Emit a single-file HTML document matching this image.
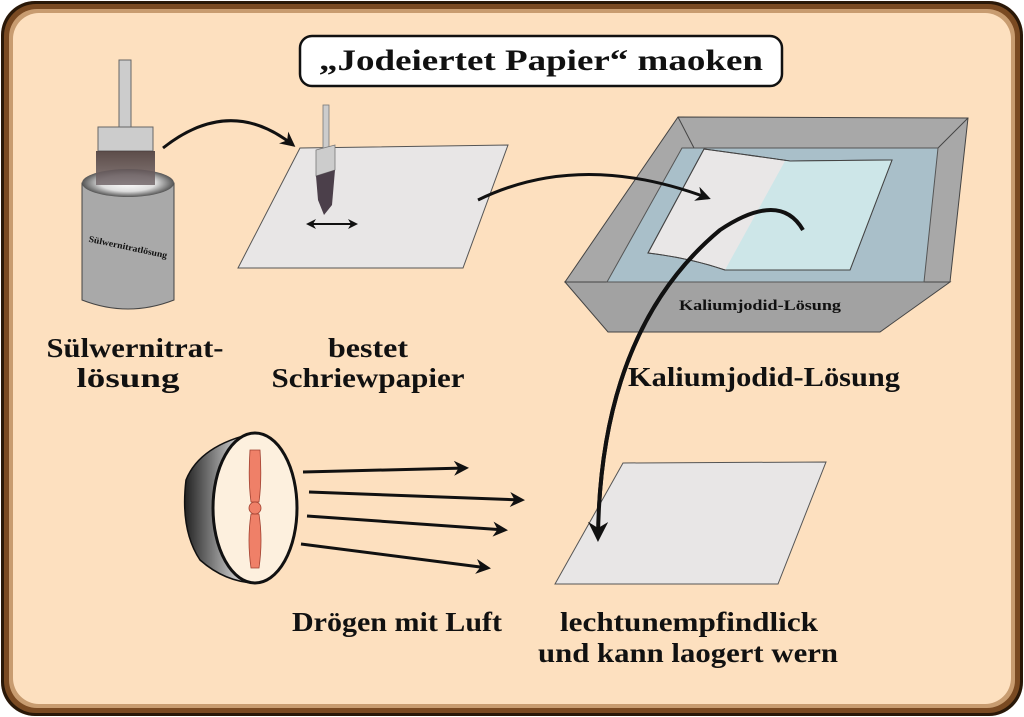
<!DOCTYPE html>
<html><head><meta charset="utf-8"><style>
html,body{margin:0;padding:0;background:#fff;}
svg{display:block;}
text{font-family:"Liberation Serif",serif;font-weight:bold;fill:#111;}
</style></head><body>
<svg width="1024" height="717" viewBox="0 0 1024 717" xmlns="http://www.w3.org/2000/svg">
<defs>
<linearGradient id="fan" x1="0" x2="1"><stop offset="0" stop-color="#222"/><stop offset="0.6" stop-color="#aaa"/><stop offset="1" stop-color="#fff"/></linearGradient>
<linearGradient id="brist" x1="0" y1="0" x2="0" y2="1"><stop offset="0" stop-color="#4a3c3c"/><stop offset="1" stop-color="#7a6f72"/></linearGradient>
<radialGradient id="canTop" cx="0.5" cy="0.5" r="0.5"><stop offset="0" stop-color="#fff"/><stop offset="0.6" stop-color="#ddd"/><stop offset="1" stop-color="#555"/></radialGradient>
<marker id="ah" viewBox="0 0 10 10" refX="8" refY="5" markerWidth="5" markerHeight="5" orient="auto-start-reverse"><path d="M0,0 L10,5 L0,10 L3,5z" fill="#111"/></marker>
</defs>
<rect x="1" y="1" width="1022" height="715" rx="34" fill="#2a1808"/>
<rect x="4" y="4" width="1016" height="709" rx="32" fill="#7a4a22"/>
<rect x="9" y="9" width="1006" height="699" rx="28" fill="#c89c70"/>
<rect x="13" y="13" width="998" height="691" rx="26" fill="#fde0bf"/>

<rect x="300" y="36" width="482" height="50" rx="12" fill="#fff" stroke="#111" stroke-width="2.5"/>
<text x="541" y="70" font-size="30" text-anchor="middle" textLength="444" lengthAdjust="spacingAndGlyphs">„Jodeiertet Papier“ maoken</text>

<!-- can -->
<path d="M82,183 L82,300 Q128,318 174,300 L174,183 Z" fill="#a9a9a9" stroke="#444"/>
<ellipse cx="128" cy="183" rx="46" ry="14" fill="url(#canTop)"/>
<text x="128" y="250" font-size="9" text-anchor="middle" transform="rotate(12 128 247)" textLength="80" lengthAdjust="spacingAndGlyphs">Sülwernitratlösung</text>
<rect x="119" y="60" width="12" height="70" fill="#ccc" stroke="#666"/>
<rect x="98" y="127" width="55" height="24" fill="#ccc" stroke="#666"/>
<rect x="96" y="151" width="59" height="34" fill="url(#brist)" opacity="0.9"/>

<!-- paper 1 -->
<polygon points="300,148 508,145 463,268 238,268" fill="#e8e6e6" stroke="#555"/>
<rect x="323" y="105" width="6" height="45" fill="#ccc" stroke="#777" stroke-width="0.8"/>
<polygon points="316,150 335,145 335,170 316,176" fill="#ccc" stroke="#777" stroke-width="0.8"/>
<polygon points="316,176 335,170 332,205 324,215 318,200" fill="#4b3f4a"/>
<line x1="308" y1="224" x2="356" y2="224" stroke="#111" stroke-width="2" marker-start="url(#ah)" marker-end="url(#ah)"/>

<path d="M163,148 Q230,95 293,145" fill="none" stroke="#111" stroke-width="3" marker-end="url(#ah)"/>

<!-- tray -->
<polygon points="678,117 968,118 950,282 565,282" fill="#a8a8a8" stroke="#444"/>
<polygon points="565,282 950,282 880,332 608,332" fill="#a2a2a2" stroke="#444"/>
<line x1="678" y1="117" x2="694" y2="148" stroke="#444"/>
<line x1="968" y1="118" x2="938" y2="148" stroke="#444"/>
<polygon points="682,148 938,148 924,282 607,282" fill="#a9bfc9" stroke="#555"/>
<path d="M704,149 Q770,158 790,161 L892,160 L850,270 L725,270 Q690,258 648,253 Z" fill="#e9e7e7" stroke="#444"/>
<path d="M785,161 L892,160 L850,270 L725,270 Z" fill="#cde6e8"/>
<path d="M704,149 Q770,158 790,161 L892,160 L850,270 L725,270 Q690,258 648,253 Z" fill="none" stroke="#444"/>
<text x="760" y="310" font-size="15" text-anchor="middle" textLength="162" lengthAdjust="spacingAndGlyphs">Kaliumjodid-Lösung</text>

<path d="M478,200 Q580,150 708,198" fill="none" stroke="#111" stroke-width="3" marker-end="url(#ah)"/>
<path d="M803,230 Q780,190 720,230 Q600,330 598,538" fill="none" stroke="#111" stroke-width="4" marker-end="url(#ah)"/>

<!-- paper 4 -->
<polygon points="623,463 826,462 778,584 555,584" fill="#e8e6e6" stroke="#555"/>
<path d="M720,230 Q600,330 598,538" fill="none" stroke="#111" stroke-width="4" marker-end="url(#ah)"/>

<!-- fan -->
<path d="M255,433 Q200,445 186,480 Q180,530 200,560 Q225,582 255,583 Z" fill="url(#fan)" stroke="#111" stroke-width="1.5"/>
<ellipse cx="255" cy="508" rx="42" ry="75" fill="#fdf0de" stroke="#111" stroke-width="3"/>
<path d="M250,450 L260,450 Q262,480 259,502 L251,502 Q248,480 250,450Z" fill="#ef8068" stroke="#a04030" stroke-width="0.8"/>
<path d="M251,514 L259,514 Q263,540 259,568 L251,568 Q247,540 251,514Z" fill="#ef8068" stroke="#a04030" stroke-width="0.8"/>
<circle cx="255" cy="508" r="6" fill="#ef8068" stroke="#a04030" stroke-width="0.8"/>
<g stroke="#111" stroke-width="3" fill="none" marker-end="url(#ah)">
<line x1="303" y1="472" x2="466" y2="468"/>
<line x1="309" y1="492" x2="522" y2="500"/>
<line x1="307" y1="516" x2="505" y2="530"/>
<line x1="301" y1="544" x2="488" y2="568"/>
</g>

<g font-size="27">
<text x="135" y="357" text-anchor="middle" textLength="177" lengthAdjust="spacingAndGlyphs">Sülwernitrat-</text>
<text x="128" y="387" text-anchor="middle" textLength="103" lengthAdjust="spacingAndGlyphs">lösung</text>
<text x="368" y="357" text-anchor="middle" textLength="80" lengthAdjust="spacingAndGlyphs">bestet</text>
<text x="368" y="387" text-anchor="middle" textLength="193" lengthAdjust="spacingAndGlyphs">Schriewpapier</text>
<text x="764" y="386" text-anchor="middle" textLength="272" lengthAdjust="spacingAndGlyphs">Kaliumjodid-Lösung</text>
<text x="397" y="631" text-anchor="middle" textLength="210" lengthAdjust="spacingAndGlyphs">Drögen mit Luft</text>
<text x="689" y="631" text-anchor="middle" textLength="258" lengthAdjust="spacingAndGlyphs">lechtunempfindlick</text>
<text x="688" y="662" text-anchor="middle" textLength="300" lengthAdjust="spacingAndGlyphs">und kann laogert wern</text>
</g>
</svg>
</body></html>
